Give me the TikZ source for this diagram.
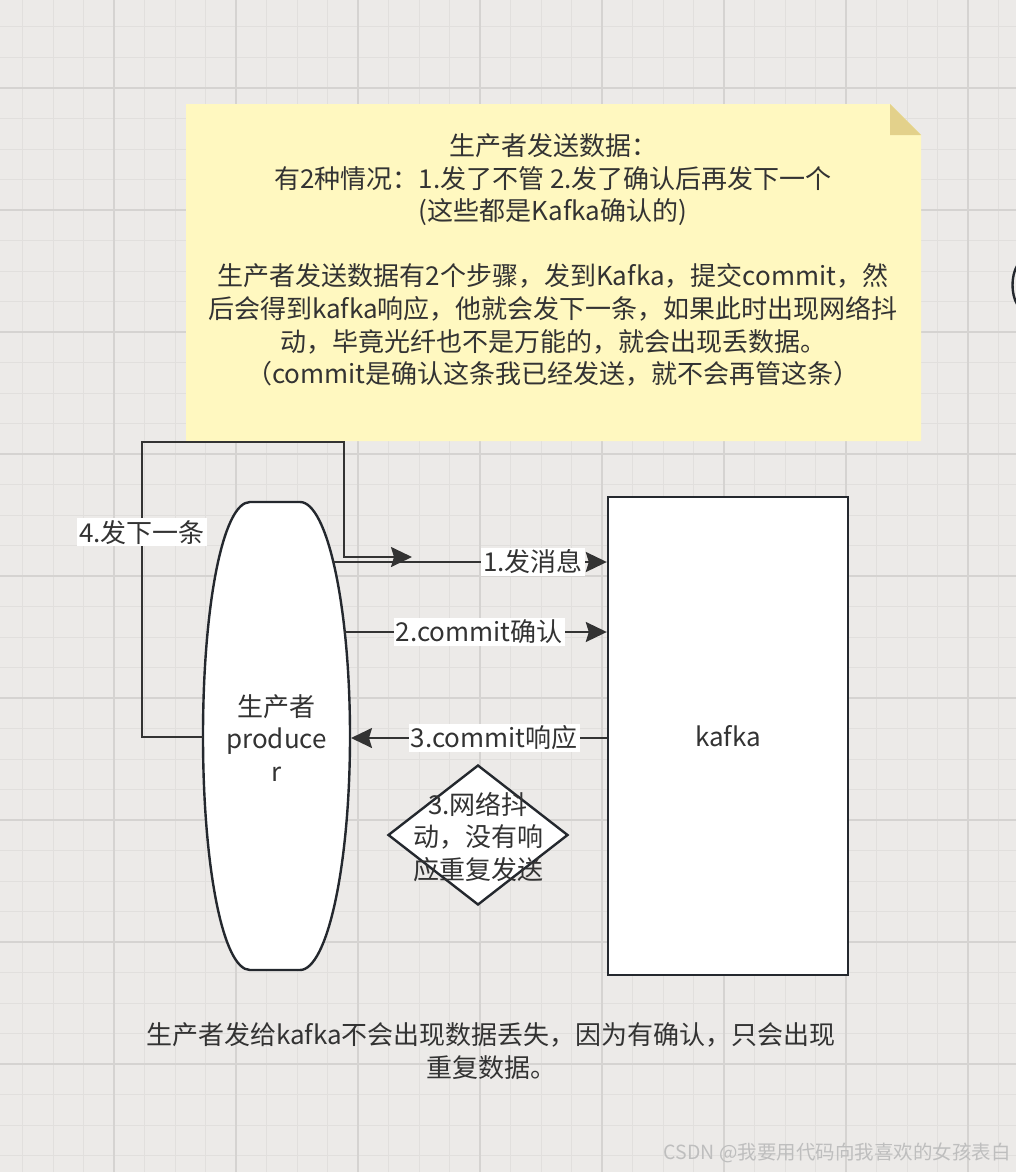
\documentclass[tikz,border=0pt]{standalone}
\usepackage{fontspec}
\setmainfont{Noto Sans CJK SC}
\usetikzlibrary{arrows.meta,shapes.geometric}
\definecolor{bg}{RGB}{236,234,232}
\definecolor{gridminor}{RGB}{225,223,221}
\definecolor{gridmajor}{RGB}{213,211,209}
\definecolor{notefill}{RGB}{255,248,192}
\definecolor{notefold}{RGB}{227,209,139}
\definecolor{ink}{RGB}{51,51,51}
\definecolor{edgec}{RGB}{36,40,46}
\definecolor{wmark}{RGB}{190,190,190}
\newcommand{\bigfont}{\fontsize{26pt}{32.6pt}\selectfont}
\begin{document}
\begin{tikzpicture}[x=1pt,y=-1pt,
  txt/.style={text=ink,font=\bigfont,align=center,inner sep=0pt},
  lbl/.style={text=ink,font=\bigfont,fill=white,inner sep=2pt},
  conn/.style={draw=ink,line width=2pt},
  >={Stealth[length=21pt,width=20pt,inset=3pt]},
  arr/.style={conn,->},
  shapeline/.style={draw=edgec,line width=2.4pt,fill=white}]
\fill[bg] (0,0) rectangle (1016,1172);
\useasboundingbox (0,0) rectangle (1016,1172);
% grid
\foreach \i in {0,...,32} \draw[gridminor,line width=1pt] ({22.5+30.5*\i},0) -- ({22.5+30.5*\i},1172);
\foreach \j in {0,...,37} \draw[gridminor,line width=1pt] (0,{27+30.5*\j}) -- (1016,{27+30.5*\j});
\foreach \i in {0,...,7} \draw[gridmajor,line width=1.4pt] ({114+122*\i},0) -- ({114+122*\i},1172);
\foreach \j in {0,...,8} \draw[gridmajor,line width=1.4pt] (0,{88+122*\j}) -- (1016,{88+122*\j});
% note
\fill[notefill] (186,104) -- (890,104) -- (921,135) -- (921,441) -- (186,441) -- cycle;
\fill[notefold] (890,104) -- (890,135) -- (921,135) -- cycle;
\node[txt] (note) at (553,260) {生产者发送数据：\\有2种情况：1.发了不管 2.发了确认后再发下一个\\(这些都是Kafka确认的)\\[32.6pt]生产者发送数据有2个步骤，发到Kafka，提交commit，然\\后会得到kafka响应，他就会发下一条，如果此时出现网络抖\\动，毕竟光纤也不是万能的，就会出现丢数据。\\（commit是确认这条我已经发送，就不会再管这条）};
% right-edge fragment
\draw[edgec,line width=2.4pt] (1017,266) .. controls (1011,276) and (1011,294) .. (1017,304);
% producer
\draw[shapeline] (250,502) -- (300,502) .. controls (327,502) and (350,605) .. (350,736)
  .. controls (350,867) and (327,970) .. (300,970) -- (250,970)
  .. controls (223,970) and (203,867) .. (203,736)
  .. controls (203,605) and (223,502) .. (250,502) -- cycle;
\node[txt] (producer) at (276.5,738) {生产者\\produce\\r};
% kafka
\node[shapeline,minimum width=240pt,minimum height=478pt,inner sep=0pt,text=ink,font=\bigfont] (kafka) at (728,736) {kafka};
% diamond
\node[shapeline,diamond,minimum width=180pt,minimum height=140pt,inner sep=0pt] (jitter) at (478,835) {};
\node[txt] (jittertext) at (478,837) {3.网络抖\\动，没有响\\应重复发送};
% anchor points on the producer outline
\coordinate (p1) at (333,562);
\coordinate (p2) at (344,632);
\coordinate (p3) at (351,738);
\coordinate (p4) at (203,737);
\coordinate (b1) at (142,442);
\coordinate (b2) at (344,442);
\coordinate (loopend) at (412,557);
% connectors
\draw[arr] (p1) -- (kafka.west |- p1) node[lbl,pos=0.73] {1.发消息};
\draw[arr] (p2) -- (kafka.west |- p2) node[lbl,pos=0.515] {2.commit确认};
\draw[arr] (kafka.west |- p3) -- (p3) node[lbl,pos=0.44] {3.commit响应};
\draw[arr] (p4) -| node[lbl,pos=0.847] {4.发下一条} (b1) -- (b2) |- (loopend);
% bottom text
\node[txt] (summary) at (491,1051) {生产者发给kafka不会出现数据丢失，因为有确认，只会出现\\重复数据。};
% watermark
\node[anchor=east,text=wmark,font=\fontsize{19.5pt}{22pt}\selectfont,inner sep=0pt] (wm) at (1011,1153) {CSDN @我要用代码向我喜欢的女孩表白};
\end{tikzpicture}
\end{document}
